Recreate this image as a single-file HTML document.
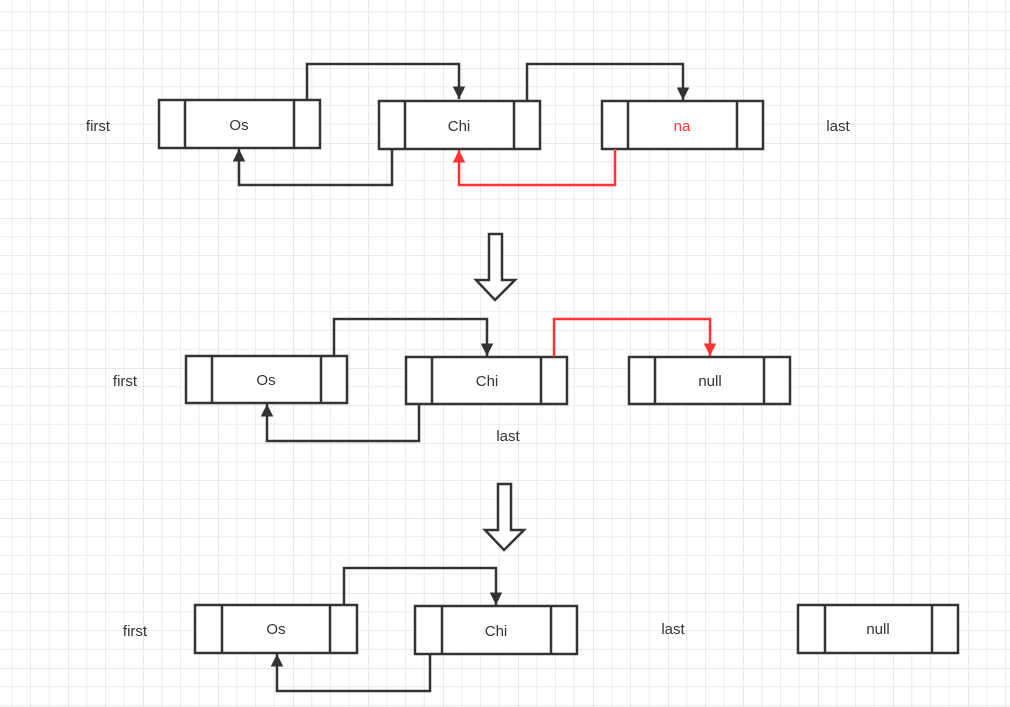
<!DOCTYPE html>
<html><head><meta charset="utf-8"><style>
html,body{margin:0;padding:0;background:#fff;}
svg{display:block;}
text{font-family:"Liberation Sans","DejaVu Sans",sans-serif;font-size:15px;fill:#333;}
</style></head><body>
<svg width="1010" height="707" viewBox="0 0 1010 707" xmlns="http://www.w3.org/2000/svg">
<defs>
<pattern id="g" x="-7" y="-7" width="75" height="75" patternUnits="userSpaceOnUse">
<path d="M18.75 0V75M37.5 0V75M56.25 0V75M0 18.75H75M0 37.5H75M0 56.25H75" stroke="#ececec" stroke-width="1" fill="none"/>
<path d="M0 0V75M0 0H75" stroke="#e2e2e2" stroke-width="1.5" fill="none"/>
</pattern>
<marker id="ab" viewBox="0 0 10 10" refX="10" refY="5" markerWidth="5" markerHeight="5" orient="auto" markerUnits="strokeWidth"><path d="M0 0L10 5L0 10z" fill="#333"/></marker>
<marker id="ar" viewBox="0 0 10 10" refX="10" refY="5" markerWidth="5" markerHeight="5" orient="auto" markerUnits="strokeWidth"><path d="M0 0L10 5L0 10z" fill="#f33"/></marker>
</defs>
<rect width="1010" height="707" fill="url(#g)"/>
<g fill="#fff" stroke="#333" stroke-width="2.5">
<!-- row1 -->
<rect x="159" y="100" width="161" height="48"/><path d="M185 100V148M294 100V148"/>
<rect x="379" y="101" width="161" height="48"/><path d="M405 101V149M514 101V149"/>
<rect x="602" y="101" width="161" height="48"/><path d="M628 101V149M737 101V149"/>
<!-- row2 -->
<rect x="186" y="356" width="161" height="47"/><path d="M212 356V403M321 356V403"/>
<rect x="406" y="357" width="161" height="47"/><path d="M432 357V404M541 357V404"/>
<rect x="629" y="357" width="161" height="47"/><path d="M655 357V404M764 357V404"/>
<!-- row3 -->
<rect x="195" y="605" width="162" height="48"/><path d="M222 605V653M330 605V653"/>
<rect x="415" y="606" width="162" height="48"/><path d="M442 606V654M551 606V654"/>
<rect x="798" y="605" width="160" height="48"/><path d="M825 605V653M932 605V653"/>
</g>
<g fill="none" stroke="#333" stroke-width="2.5">
<path d="M307 100V64H459V99" marker-end="url(#ab)"/>
<path d="M392 149V185H239V149" marker-end="url(#ab)"/>
<path d="M527 101V64H683V100" marker-end="url(#ab)"/>
<path d="M334 356V319H487V356" marker-end="url(#ab)"/>
<path d="M419 404V441H267V404" marker-end="url(#ab)"/>
<path d="M344 605V568H496V605" marker-end="url(#ab)"/>
<path d="M430 654V691H277V654" marker-end="url(#ab)"/>
</g>
<g fill="none" stroke="#f33" stroke-width="2.5">
<path d="M615 149V185H459V150" marker-end="url(#ar)"/>
<path d="M554 357V319H710V356" marker-end="url(#ar)"/>
</g>
<g fill="#fff" stroke="#333" stroke-width="2.5" stroke-linejoin="miter">
<path d="M489 234H502V280H515L495 300L476 280H489Z"/>
<path d="M498 484H511V530H524L504 550L485 530H498Z"/>
</g>
<g text-anchor="middle">
<text x="98" y="131">first</text>
<text x="239" y="130">Os</text>
<text x="459" y="131">Chi</text>
<text x="682" y="131" style="fill:#f33">na</text>
<text x="838" y="131">last</text>
<text x="125" y="386">first</text>
<text x="266" y="385">Os</text>
<text x="487" y="386">Chi</text>
<text x="710" y="386">null</text>
<text x="508" y="441">last</text>
<text x="135" y="636">first</text>
<text x="276" y="634">Os</text>
<text x="496" y="636">Chi</text>
<text x="673" y="634">last</text>
<text x="878" y="634">null</text>
</g>
</svg>
</body></html>
